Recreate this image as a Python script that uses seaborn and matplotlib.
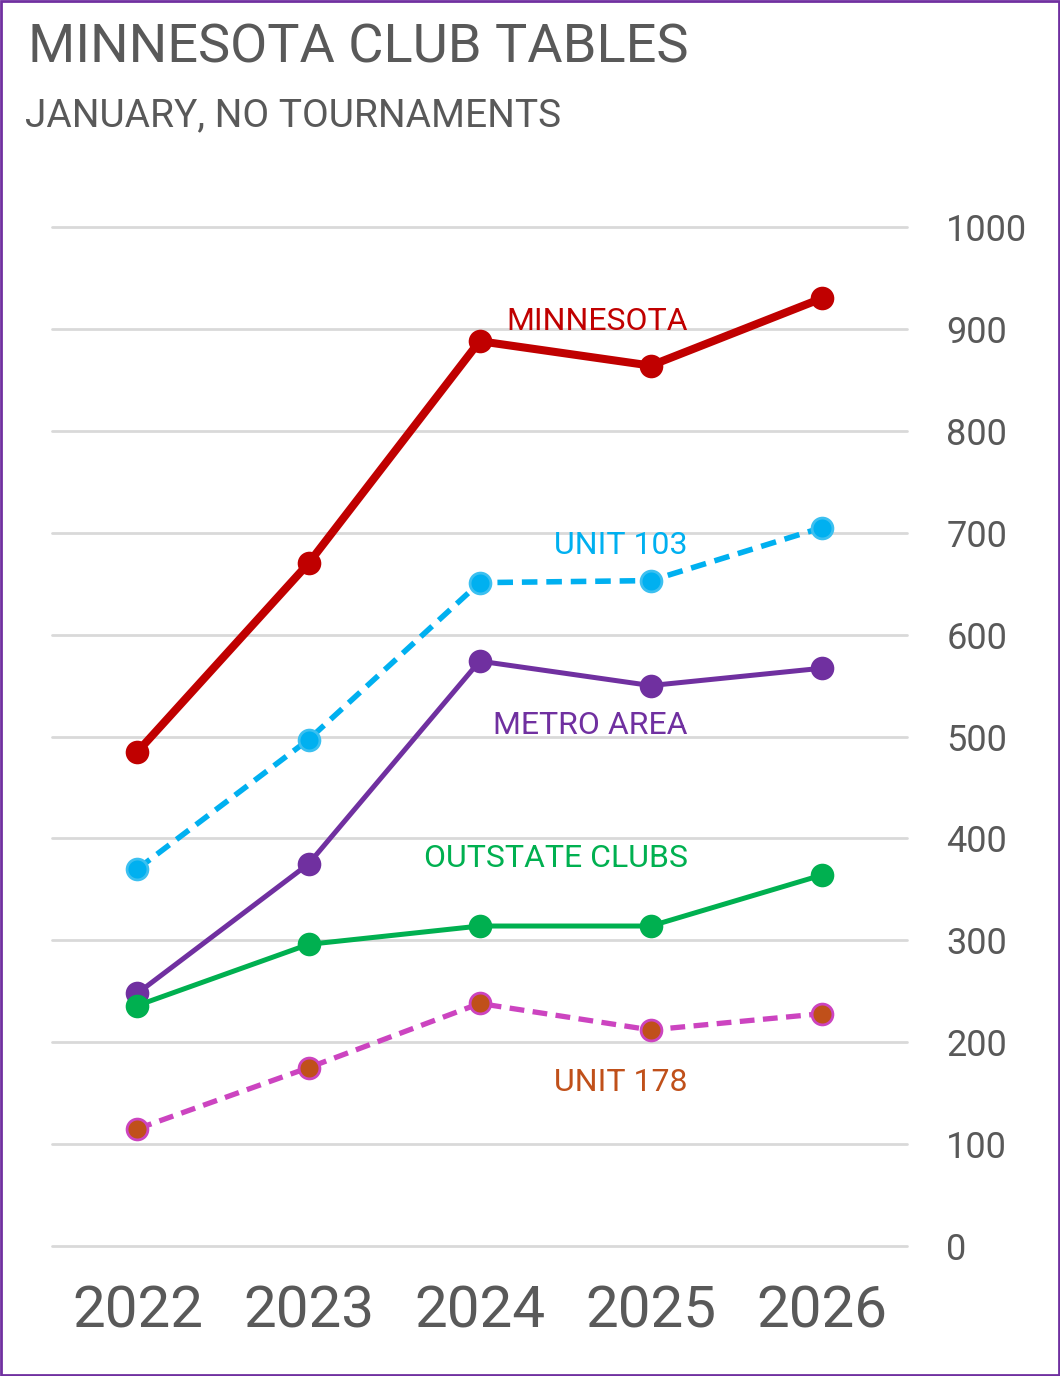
import numpy as np
import pandas as pd
import seaborn as sns
import matplotlib.pyplot as plt
from matplotlib.patches import Rectangle

sns.set_theme(style="white")
plt.rcParams['font.family'] = ['Roboto', 'DejaVu Sans']

years = ['2022', '2023', '2024', '2025', '2026']
minnesota = [485, 670, 888, 864, 930]
unit_103 = [370, 497, 651, 653, 705]
metro_area = [248, 375, 574, 550, 567]
outstate = [236, 296, 314, 314, 364]
unit_178 = [115, 175, 238, 212, 228]

grey = '#595959'

fig = plt.figure(figsize=(10.6, 13.76), dpi=100)
ax = fig.add_axes([0.049, 0.0945, 0.807, 0.7405])

# 系列样式
series = [
    ('MINNESOTA', minnesota, dict(color='#C00000', lw=5.8, mfc='#C00000', mec='#C00000', ls='-'), '#C00000', 907),
    ('UNIT 103', unit_103, dict(color='#00B0F0', lw=4.0, mfc='#00B0F0', mec='#3CC0F0', ls='--'), '#00B0F0', 687),
    ('METRO AREA', metro_area, dict(color='#7030A0', lw=3.6, mfc='#7030A0', mec='#7030A0', ls='-'), '#7030A0', 511),
    ('OUTSTATE CLUBS', outstate, dict(color='#00B050', lw=3.6, mfc='#00B050', mec='#00B050', ls='-'), '#00B050', 380),
    ('UNIT 178', unit_178, dict(color='#CC44C0', lw=3.8, mfc='#C0501A', mec='#CC44C0', ls='--'), '#C0501A', 160),
]

for name, vals, st, tcol, ty in series:
    df = pd.DataFrame({'year': years, 'value': vals})
    kw = dict(color=st['color'], linewidth=st['lw'], marker='o', markersize=15,
              markerfacecolor=st['mfc'], markeredgecolor=st['mec'], markeredgewidth=2,
              clip_on=False)
    if st['ls'] == '--':
        kw['dashes'] = (2.8, 1.6)
    sns.lineplot(data=df, x='year', y='value', ax=ax, **kw)
    ax.text(3.216, ty, name, color=tcol, fontsize=23, ha='right', va='center')

ax.set_xlim(-0.5, 4.5)
ax.set_ylim(0, 1000)
ax.set_yticks(range(0, 1001, 100))
ax.yaxis.tick_right()
ax.yaxis.grid(True, color='#D9D9D9', linewidth=2)
for gl in ax.get_ygridlines():
    gl.set_clip_on(False)
ax.xaxis.grid(False)
for s in ax.spines.values():
    s.set_visible(False)
ax.tick_params(axis='y', length=0, pad=28, labelsize=26, labelcolor=grey)
ax.tick_params(axis='x', length=0, pad=28, labelsize=42, labelcolor=grey)
ax.set_xlabel('')
ax.set_ylabel('')

fig.text(0.026, 0.965, 'MINNESOTA CLUB TABLES', fontsize=39, color=grey, va='center', ha='left')
fig.text(0.024, 0.916, 'JANUARY, NO TOURNAMENTS', fontsize=28, color=grey, va='center', ha='left')

fig.patches.append(Rectangle((0.001, 0.001), 0.998, 0.998, transform=fig.transFigure,
                             fill=False, edgecolor='#7030A0', linewidth=2))

fig.savefig('out.png', dpi=100)
